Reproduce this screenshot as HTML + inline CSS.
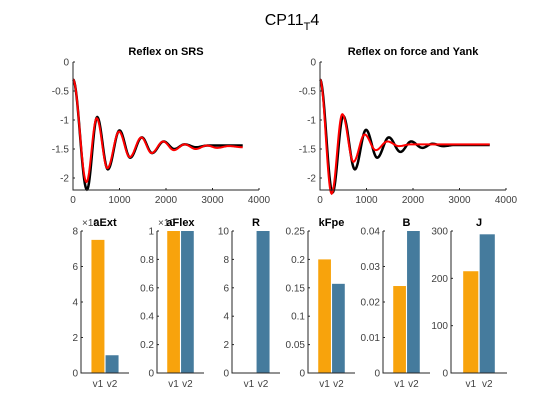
<!DOCTYPE html>
<html><head><meta charset="utf-8"><style>
body{margin:0;background:#fff}
svg{display:block;font-family:"Liberation Sans",Arial,sans-serif}
</style></head><body>
<svg id="fig" width="560" height="420" viewBox="0 0 560 420">
<rect width="560" height="420" fill="#fff"/>
<text x="292" y="25" text-anchor="middle" font-size="16" fill="#000">CP11<tspan font-size="11" dy="5">T</tspan><tspan dy="-5">4</tspan></text>
</svg>
<script>
// Reflex on SRS: extrema (time, value)
const srsBlackT=[0,300,520,750,1000,1230,1480,1700,1950,2180,2400,2650,2900,3650];
const srsBlackV=[-0.3,-2.2,-0.95,-1.85,-1.18,-1.65,-1.3,-1.57,-1.37,-1.5,-1.42,-1.47,-1.44,-1.44];
const srsRedT=[0,290,510,740,990,1220,1470,1690,1940,2170,2400,2640,2880,3100,3350,3650];
const srsRedV=[-0.3,-2.07,-0.97,-1.83,-1.2,-1.64,-1.3,-1.57,-1.37,-1.52,-1.42,-1.5,-1.44,-1.48,-1.45,-1.47];
// Reflex on force and Yank
const fyBlackT=[0,270,500,750,990,1230,1480,1730,1960,2200,2420,2650,2900,3650];
const fyBlackV=[-0.3,-2.25,-0.93,-1.85,-1.17,-1.65,-1.3,-1.55,-1.37,-1.48,-1.41,-1.45,-1.43,-1.43];
const fyRedT=[0,250,480,720,960,1200,1450,1700,1950,3650];
const fyRedV=[-0.3,-2.27,-0.9,-1.72,-1.25,-1.52,-1.37,-1.45,-1.42,-1.42];
const lineXTicks=[0,1000,2000,3000,4000];
const lineYTicks=[0,-0.5,-1,-1.5,-2];
const lineYTickLabels=["0","-0.5","-1","-1.5","-2"];
// Bar panels
const barTitles=["aExt","aFlex","R","kFpe","B","J"];
const barCats=["v1","v2"];
const barV1=[7.5,1,0,0.2,0.0245,215];
const barV2=[1,1,10,0.157,0.04,293];
const barYMax=[8,1,10,0.25,0.04,300];
const barYTicks=[[0,2,4,6,8],[0,0.2,0.4,0.6,0.8,1],[0,2,4,6,8,10],[0,0.05,0.1,0.15,0.2,0.25],[0,0.01,0.02,0.03,0.04],[0,100,200,300]];
const barYTickLabels=[["0","2","4","6","8"],["0","0.2","0.4","0.6","0.8","1"],["0","2","4","6","8","10"],["0","0.05","0.1","0.15","0.2","0.25"],["0","0.01","0.02","0.03","0.04"],["0","100","200","300"]];

const NS="http://www.w3.org/2000/svg";
const svg=document.getElementById('fig');
function mk(tag,attrs,parent){const e=document.createElementNS(NS,tag);for(const k in attrs)e.setAttribute(k,attrs[k]);(parent||svg).appendChild(e);return e;}

function curve(T,V,sx,sy){
  let d="";
  for(let i=0;i<T.length-1;i++){
    const n=20;
    for(let j=0;j<=n;j++){
      if(i>0&&j===0)continue;
      const u=j/n,h=(1-Math.cos(Math.PI*u))/2;
      const t=T[i]+(T[i+1]-T[i])*u,v=V[i]+(V[i+1]-V[i])*h;
      d+=(d?"L":"M")+sx(t).toFixed(2)+","+sy(v).toFixed(2);
    }
  }
  return d;
}

function linePanel(x0,x1,title,name,bT,bV,rT,rV){
  const y0=62,yB=190;
  const sx=t=>x0+(t/4000)*(x1-x0);
  const sy=v=>y0+(-v)*58;
  const g=mk('g',{});
  
  
  const tt=mk('text',{x:(x0+x1)/2,y:55,'text-anchor':'middle','font-size':11,'font-weight':'bold',fill:'#000'},g);
  tt.textContent=title;
  
  
  const pb=mk('path',{d:curve(bT,bV,sx,sy),fill:'none',stroke:'#000','stroke-width':2.5},g);
  
  
  const pr=mk('path',{d:curve(rT,rV,sx,sy),fill:'none',stroke:'#f00','stroke-width':2},g);
  
  
  const ax=mk('path',{d:`M${x0},${y0}V${yB}H${x1}`,fill:'none',stroke:'#262626','stroke-width':1},g);
  
  
  lineXTicks.forEach(t=>{
    mk('line',{x1:sx(t),x2:sx(t),y1:yB,y2:yB-2,stroke:'#262626'},g);
    const l=mk('text',{x:sx(t),y:yB+13,'text-anchor':'middle','font-size':10,fill:'#404040'},g);
    l.textContent=t;
    
    
  });
  lineYTicks.forEach((v,i)=>{
    mk('line',{x1:x0,x2:x0+2,y1:sy(v),y2:sy(v),stroke:'#262626'},g);
    const l=mk('text',{x:x0-4,y:sy(v)+3.5,'text-anchor':'end','font-size':10,fill:'#404040'},g);
    l.textContent=lineYTickLabels[i];
    
    
  });
}
linePanel(73,259,"Reflex on SRS","srs-panel",srsBlackT,srsBlackV,srsRedT,srsRedV);
linePanel(320,506,"Reflex on force and Yank","force-yank-panel",fyBlackT,fyBlackV,fyRedT,fyRedV);

const barLeft=[81,157,232,308,383,451];
const barRight=[129,204,280,355,430,507];
const colors=["#f8a30c","#457b9d"];
for(let p=0;p<6;p++){
  const x0=barLeft[p],x1=barRight[p],yT=231,yB=373;
  const sx=c=>x0+(c+0.2)/3.4*(x1-x0);
  const sy=v=>yB-(v/barYMax[p])*(yB-yT);
  const g=mk('g',{});
  
  
  const bw=0.92/3.4*(x1-x0);
  [barV1[p],barV2[p]].forEach((v,i)=>{
    const h=yB-sy(v);
    const r=mk('rect',{x:sx(i+1)-bw/2,y:sy(v),width:bw,height:Math.max(h,0),fill:colors[i]},g);
    
    
    const l=mk('text',{x:sx(i+1),y:yB+14,'text-anchor':'middle','font-size':10,fill:'#404040'},g);
    l.textContent=barCats[i];
    
    
  });
  const ax=mk('path',{d:`M${x0},${yT}V${yB}H${x1}`,fill:'none',stroke:'#262626'},g);
  
  
  barYTicks[p].forEach((v,i)=>{
    mk('line',{x1:x0,x2:x0+2,y1:sy(v),y2:sy(v),stroke:'#262626'},g);
    const l=mk('text',{x:x0-3,y:sy(v)+3.5,'text-anchor':'end','font-size':10,fill:'#404040'},g);
    l.textContent=barYTickLabels[p][i];
    
    
  });
  if(p<2){
    const e=mk('text',{x:x0+1,y:yT-5,'font-size':10,fill:'#404040'},g);
    e.textContent="×10";
    
    
  }
  const t=mk('text',{x:(x0+x1)/2,y:yT-5,'text-anchor':'middle','font-size':11,'font-weight':'bold',fill:'#000'},g);
  t.textContent=barTitles[p];
  
  
}
</script>
</body></html>
